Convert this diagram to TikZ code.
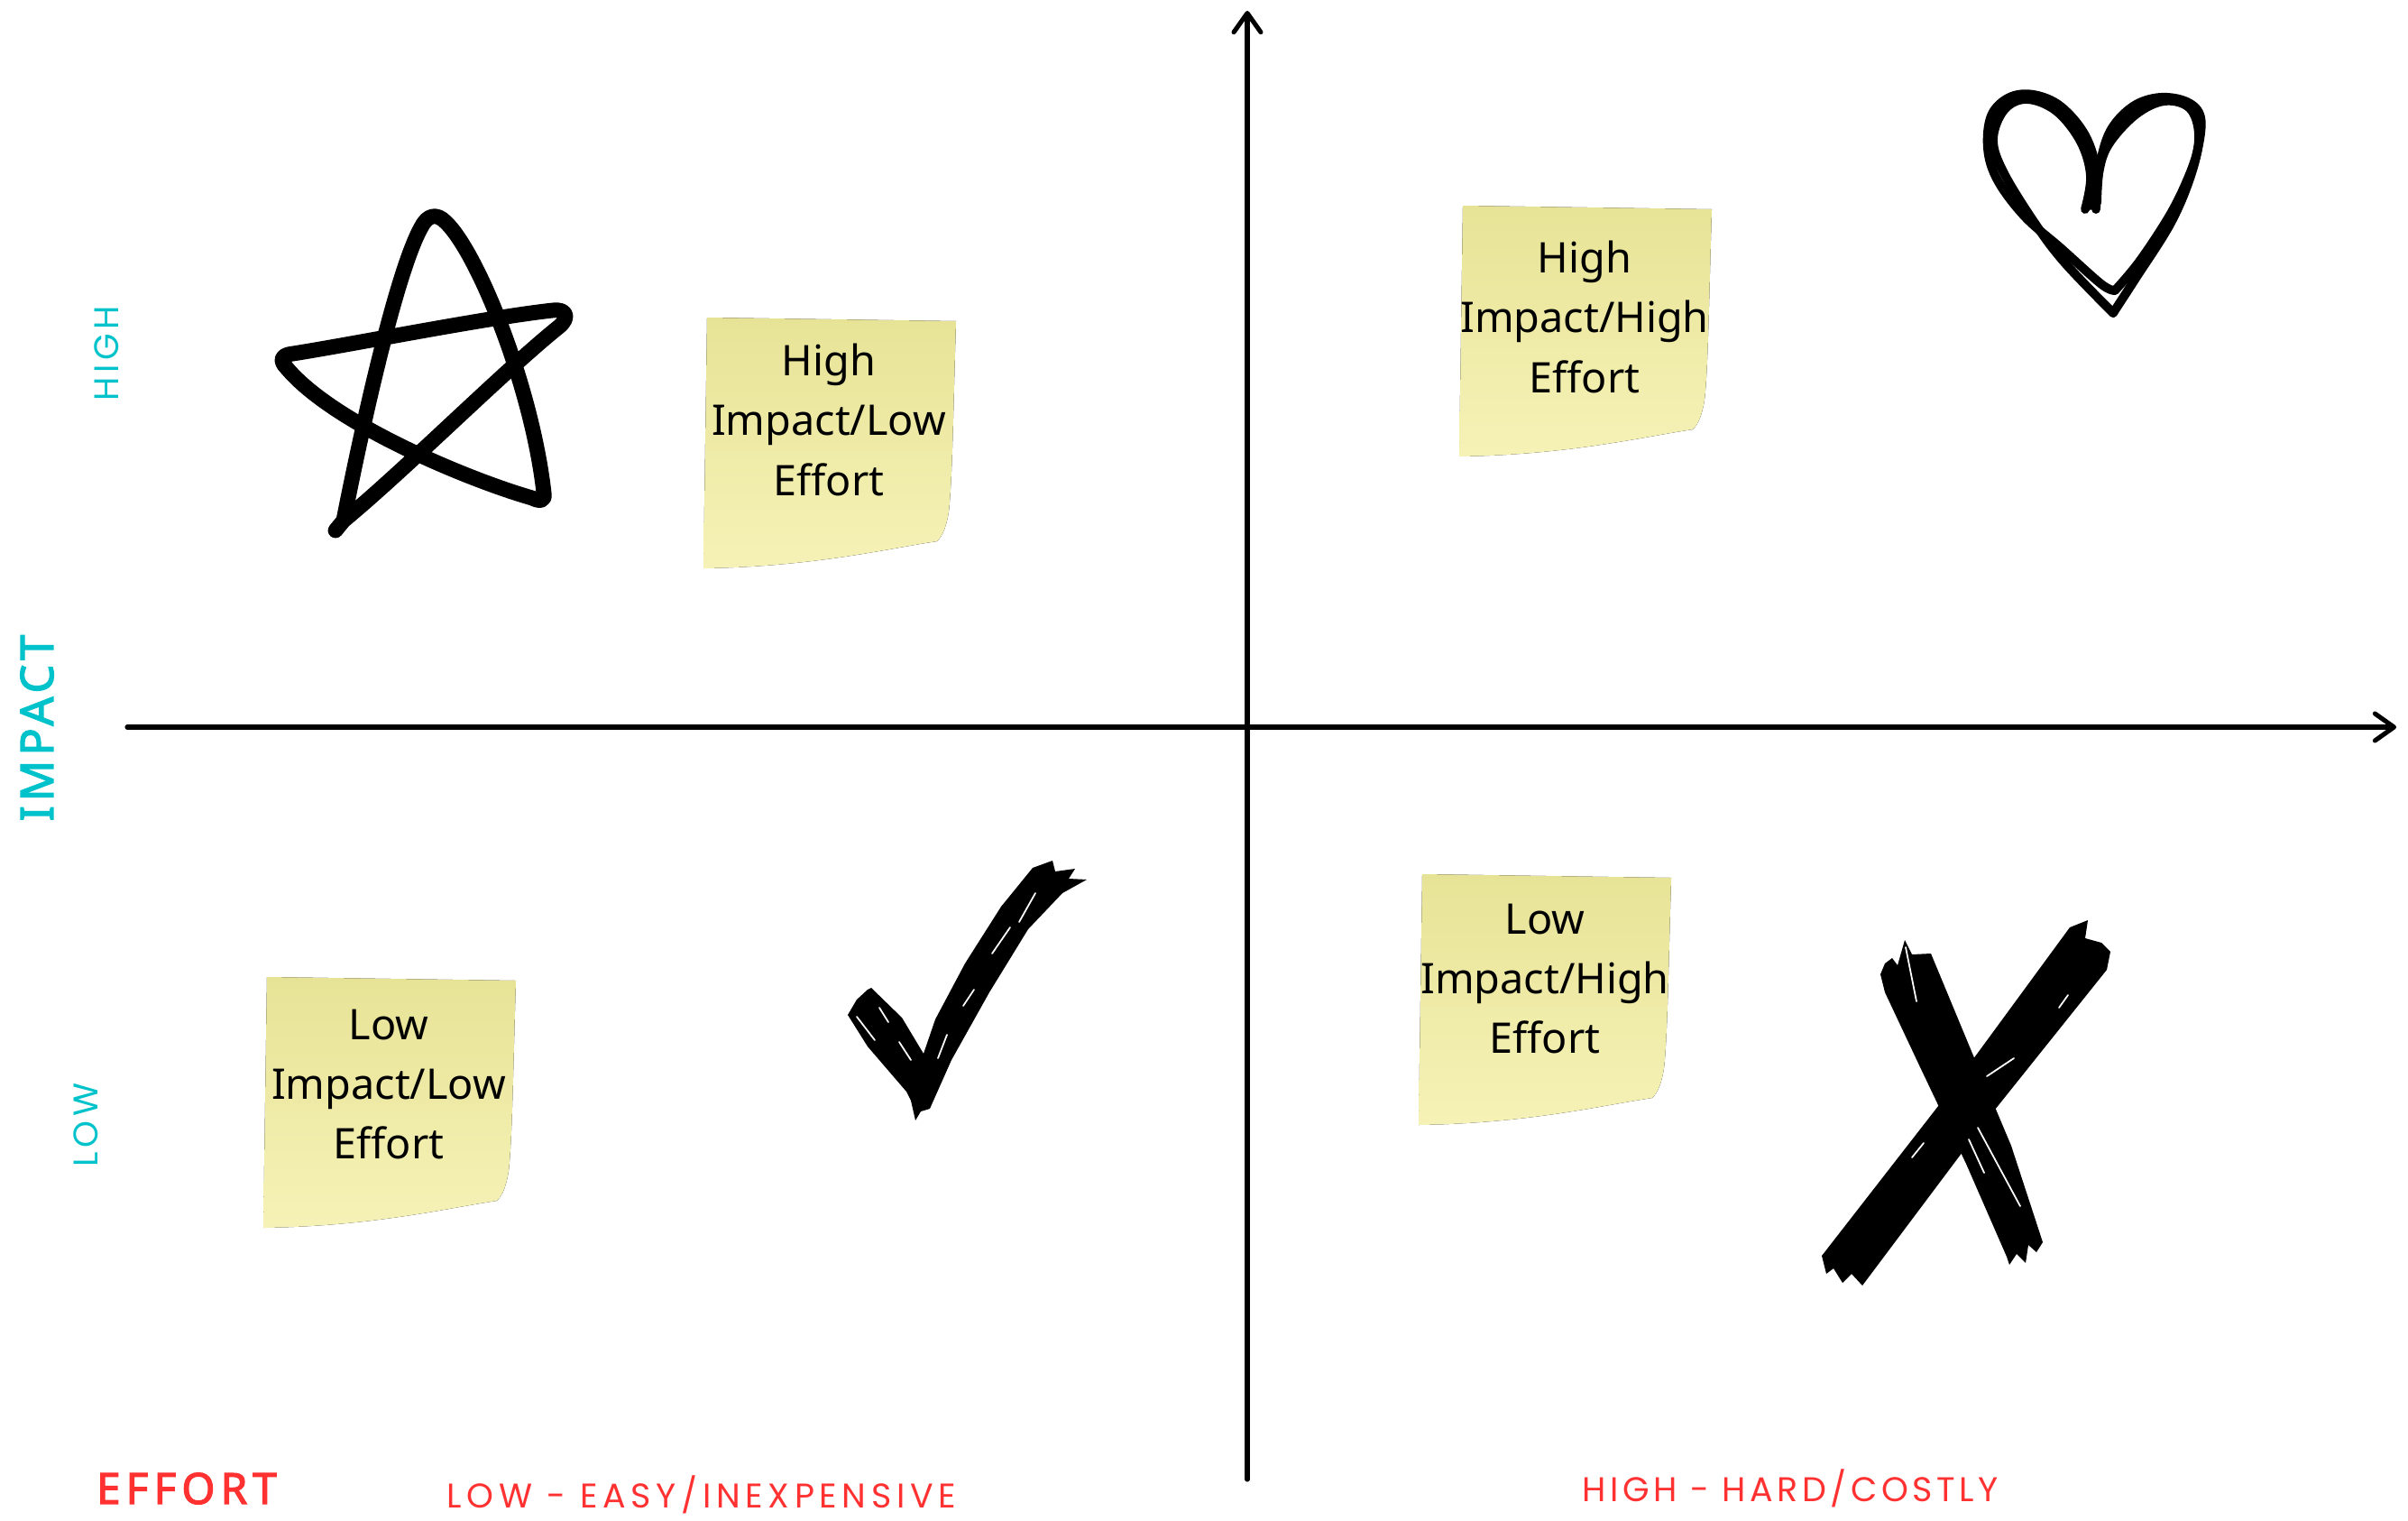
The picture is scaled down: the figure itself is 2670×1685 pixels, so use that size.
\documentclass[tikz,border=0pt]{standalone}
\usepackage{fontspec}
\setmainfont{Noto Sans}
\newfontfamily\capsfont{Poppins}
\newfontfamily\headfont{Noto Sans}[FakeBold=2.6]
\usetikzlibrary{arrows.meta}

\definecolor{impactteal}{RGB}{0,194,203}
\definecolor{effortred}{RGB}{255,49,49}
\definecolor{paperA}{RGB}{231,227,150}
\definecolor{paperB}{RGB}{246,242,183}

% one sticky-note sheet, placed by its top-left corner
\newcommand\notesheet[1]{%
  \fill[top color=paperA, bottom color=paperB, shift={#1}]
    (0,0) -- (276,4)
    .. controls (273,100) and (272,180) .. (268,215)
    .. controls (265,233) and (261,242) .. (255,248)
    .. controls (200,256) and (120,276) .. (-4,278) -- cycle;}

\begin{document}
\begin{tikzpicture}[x=0.01cm, y=-0.01cm,
  axis/.style={line width=1.45pt, line cap=round,
    -{Straight Barb[length=6pt, width=8.5pt, round]}},
  notetext/.style={font=\fontsize{13.3pt}{18.9pt}\selectfont, align=center, inner sep=0pt},
  thinlabel/.style={font=\capsfont\fontsize{10.8pt}{12pt}\selectfont\addfontfeature{LetterSpace=12}, inner sep=0pt},
  widelabel/.style={font=\capsfont\fontsize{10.8pt}{12pt}\selectfont\addfontfeature{LetterSpace=15}, inner sep=0pt},
  starline/.style={line width=4.8pt, line cap=round, line join=round},
  heartline/.style={line width=2.8pt, line cap=round, line join=round},
  streak/.style={white, line width=0.5pt, line cap=round}]

\useasboundingbox (0,0) rectangle (2670,1685);
\fill[white] (0,0) rectangle (2670,1685);

% axes
\coordinate (ybottom) at (1383,1640);
\coordinate (ytop) at (1383,12);
\coordinate (xleft) at (141,806);
\coordinate (xright) at (2657,806);
\draw[axis] (ybottom) -- (ytop);
\draw[axis] (xleft) -- (xright);

% axis titles
\node[rotate=90, text=impactteal, font=\headfont\fontsize{14.3pt}{16pt}\selectfont\addfontfeature{LetterSpace=10}, inner sep=0pt] (impact) at (41,807) {IMPACT};
\node[rotate=90, text=impactteal, thinlabel] (ihigh) at (118,392) {HIGH};
\node[rotate=90, text=impactteal, thinlabel] (ilow) at (95,1247) {LOW};
\node[text=effortred, font=\headfont\fontsize{13.5pt}{15pt}\selectfont\addfontfeature{LetterSpace=13}, inner sep=0pt] (effort) at (207,1650) {EFFORT};
\node[text=effortred, widelabel] (elow) at (778,1657) {LOW - EASY/INEXPENSIVE};
\node[text=effortred, thinlabel] (ehigh) at (1985,1650) {HIGH - HARD/COSTLY};

% sticky notes
\notesheet{(784,352)}
\notesheet{(1622,228)}
\notesheet{(296,1083)}
\notesheet{(1577,969)}
\node[notetext] (hilo) at (919,465) {High\\Impact/Low\\Effort};
\node[notetext] (hihi) at (1757,351) {High\\Impact/High\\Effort};
\node[notetext] (lolo) at (431,1202) {Low\\Impact/Low\\Effort};
\node[notetext] (lohi) at (1713,1085) {Low\\Impact/High\\Effort};

% hand-drawn star
\draw[starline] (372,588) -- (381,577)
  .. controls (402,470) and (440,300) .. (467,252)
  .. controls (474,238) and (484,236) .. (494,246)
  .. controls (530,280) and (590,430) .. (603,546)
  .. controls (605,556) and (598,556) .. (590,552)
  .. controls (520,532) and (370,470) .. (318,408)
  .. controls (308,398) and (314,393) .. (325,392)
  .. controls (400,380) and (540,352) .. (613,344)
  .. controls (628,342) and (632,352) .. (620,362)
  .. controls (560,410) and (450,520) .. (381,577);

% hand-drawn heart, two passes
\draw[heartline] plot[smooth, tension=0.6] coordinates {(2312,232) (2318,195) (2307,157) (2280,123) (2247,110) (2222,122) (2210,155) (2222,192) (2258,250) (2290,292) (2343,347)};
\draw[heartline] plot[smooth, tension=0.6] coordinates {(2343,347) (2367,310) (2407,247) (2430,192) (2438,150) (2428,120) (2400,112) (2368,127) (2338,160) (2327,192) (2324,232)};
\draw[heartline] plot[smooth, tension=0.6] coordinates {(2318,228) (2324,190) (2312,150) (2285,118) (2255,105) (2228,108) (2208,128) (2204,165) (2215,200) (2245,240) (2285,275) (2330,315) (2345,322)};
\draw[heartline] plot[smooth, tension=0.6] coordinates {(2345,322) (2372,290) (2405,240) (2425,200) (2437,165) (2440,130) (2425,113) (2395,108) (2365,118) (2340,145) (2328,185) (2325,225)};

% brushed check mark
\fill (962,1097) -- (950,1108) -- (940,1125) -- (962,1160) -- (1005,1210) -- (1010,1220)
  -- (1015,1242) -- (1021,1232) -- (1031,1229) -- (1055,1175) -- (1097,1100)
  -- (1140,1030) -- (1178,990) -- (1205,975) -- (1185,974) -- (1192,963)
  -- (1170,966) -- (1167,954) -- (1145,962) -- (1110,1005) -- (1070,1068)
  -- (1037,1130) -- (1024,1168) -- (1000,1128) -- (966,1095) -- cycle;
\draw[streak] (1130,1022) -- (1148,990);
\draw[streak] (1100,1057) -- (1120,1028);
\draw[streak] (1068,1115) -- (1080,1097);
\draw[streak] (1040,1173) -- (1050,1147);
\draw[streak] (950,1127) -- (970,1153);
\draw[streak] (975,1117) -- (985,1133);
\draw[streak] (997,1155) -- (1010,1175);

% brushed cross
\fill (2085,1080) -- (2090,1068) -- (2098,1062) -- (2104,1070) -- (2112,1042)
  -- (2120,1058) -- (2141,1057) -- (2190,1175) -- (2230,1270) -- (2265,1377)
  -- (2258,1388) -- (2249,1380) -- (2246,1400) -- (2236,1390) -- (2228,1402)
  -- (2225,1393) -- (2180,1290) -- (2130,1185) -- (2090,1100) -- cycle;
\fill (2295,1028) -- (2315,1020) -- (2312,1040) -- (2330,1045) -- (2340,1055)
  -- (2336,1075) -- (2200,1245) -- (2065,1425) -- (2053,1412) -- (2043,1422)
  -- (2033,1406) -- (2025,1412) -- (2020,1392) -- (2160,1212) -- cycle;
\draw[streak] (2100,1127) -- (2140,1217);
\draw[streak] (2113,1050) -- (2125,1110);
\draw[streak] (2203,1193) -- (2233,1173);
\draw[streak] (2183,1263) -- (2200,1300);
\draw[streak] (2193,1250) -- (2240,1337);
\draw[streak] (2120,1283) -- (2133,1267);
\draw[streak] (2283,1117) -- (2293,1103);
\end{tikzpicture}
\end{document}
